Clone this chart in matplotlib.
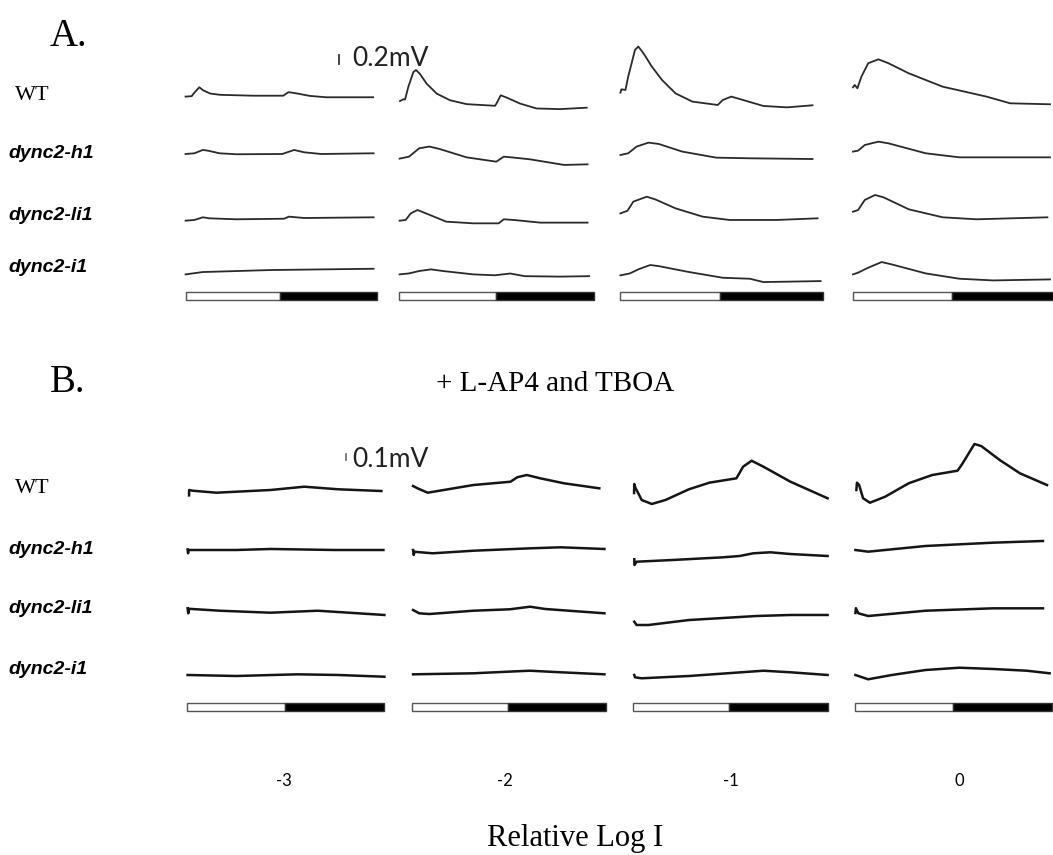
import matplotlib.pyplot as plt
from matplotlib.patches import Rectangle

# 相对光强 (Relative Log I) 和基因型
log_i = ['-3', '-2', '-1', '0']
genotypes = ['WT', 'dync2-h1', 'dync2-li1', 'dync2-i1']

# 光刺激: 亮 / 灭 (s)
light_on = (0.0, 0.99)
light_off = (0.99, 2.0)

scale_a = 0.2  # mV
scale_b = 0.1  # mV

# A. ERG traces, (time s, mV) for log I = -3, -2, -1, 0
wt_a = [
    [(0, 0), (0.064, 0.01), (0.08, 0.06), (0.143, 0.21), (0.185, 0.14), (0.255, 0.07), (0.36, 0.04),
     (0.71, 0.02), (1.02, 0.02), (1.075, 0.10), (1.14, 0.08), (1.30, 0.015), (1.47, -0.015), (1.96, -0.015)],
    [(0.01, -0.10), (0.044, -0.06), (0.062, -0.067), (0.095, 0.215), (0.147, 0.55), (0.174, 0.60),
     (0.215, 0.51), (0.284, 0.29), (0.387, 0.067), (0.523, -0.082), (0.694, -0.17), (0.985, -0.207),
     (1.0, -0.156), (1.043, 0.029), (1.104, -0.022), (1.24, -0.156), (1.41, -0.267), (1.65, -0.282),
     (1.925, -0.25)],
    [(0, 0.09), (0.01, 0.164), (0.05, 0.149), (0.077, 0.449), (0.111, 0.751), (0.144, 1.051),
     (0.177, 1.127), (0.228, 0.976), (0.311, 0.676), (0.411, 0.376), (0.545, 0.073), (0.712, -0.113),
     (0.963, -0.189), (1.013, -0.076), (1.097, 0.0), (1.213, -0.076), (1.414, -0.211), (1.647, -0.242),
     (1.9, -0.196)],
    [(0, 0.209), (0.017, 0.262), (0.044, 0.187), (0.084, 0.449), (0.152, 0.751), (0.254, 0.84),
     (0.355, 0.751), (0.558, 0.524), (0.896, 0.224), (1.335, 0.0), (1.572, -0.151), (1.97, -0.173)],
]
h1_a = [
    [(0, -0.027), (0.092, -0.011), (0.18, 0.064), (0.231, 0.049), (0.354, -0.011), (0.532, -0.033),
     (1.01, -0.027), (1.134, 0.064), (1.24, 0.011), (1.417, -0.027), (1.964, -0.011)],
    [(0.006, -0.131), (0.103, -0.087), (0.207, 0.102), (0.311, 0.14), (0.415, 0.087), (0.692, -0.102),
     (0.998, -0.2), (1.074, -0.087), (1.19, -0.111), (1.344, -0.147), (1.692, -0.273), (1.934, -0.26)],
    [(0, -0.049), (0.077, -0.011), (0.16, 0.14), (0.278, 0.229), (0.378, 0.2), (0.612, 0.027),
     (0.947, -0.109), (1.281, -0.124), (1.9, -0.14)],
    [(0, 0.027), (0.051, 0.049), (0.118, 0.176), (0.254, 0.251), (0.355, 0.213), (0.727, -0.011),
     (1.065, -0.102), (1.97, -0.102)],
]
li1_a = [
    [(0, -0.04), (0.092, -0.024), (0.18, 0.036), (0.25, 0.013), (0.532, -0.009), (1.028, 0.004),
     (1.08, 0.051), (1.24, 0.02), (1.964, 0.036)],
    [(0.006, -0.04), (0.069, -0.024), (0.12, 0.124), (0.19, 0.2), (0.277, 0.124), (0.484, -0.062),
     (0.762, -0.1), (1.022, -0.1), (1.074, -0.009), (1.178, -0.024), (1.449, -0.084), (1.934, -0.084)],
    [(0, 0.124), (0.07, 0.184), (0.128, 0.389), (0.261, 0.5), (0.344, 0.44), (0.545, 0.238),
     (0.813, 0.051), (1.08, -0.024), (1.548, -0.024), (1.95, 0.013)],
    [(0, 0.162), (0.051, 0.2), (0.118, 0.427), (0.22, 0.538), (0.304, 0.487), (0.558, 0.216),
     (0.896, 0.036), (1.234, -0.009), (1.944, 0.036)],
]
i1_a = [
    [(0, -0.02), (0.18, 0.033), (0.887, 0.078), (1.964, 0.107)],
    [(0.006, -0.02), (0.103, 0.002), (0.207, 0.056), (0.328, 0.093), (0.45, 0.056), (0.762, -0.02),
     (0.985, -0.04), (1.14, 0.0), (1.29, -0.06), (1.65, -0.07), (1.95, -0.06)],
    [(0, -0.042), (0.094, 0.002), (0.177, 0.093), (0.295, 0.191), (0.378, 0.167), (0.679, 0.033),
     (1.013, -0.096), (1.281, -0.118), (1.414, -0.193), (1.98, -0.171)],
    [(0, -0.02), (0.051, 0.018), (0.152, 0.131), (0.287, 0.258), (0.389, 0.204), (0.727, 0.002),
     (1.065, -0.118), (1.403, -0.156), (1.97, -0.133)],
]

# B. + L-AP4 and TBOA
wt_b = [
    [(0.025, -0.09), (0.026, 0.0), (0.062, -0.012), (0.301, -0.045), (0.848, 0.0), (1.19, 0.055),
     (1.532, 0.012), (1.97, -0.017)],
    [(0.013, 0.067), (0.059, 0.028), (0.164, -0.045), (0.286, -0.012), (0.635, 0.083), (1.019, 0.138),
     (1.088, 0.212), (1.187, 0.25), (1.326, 0.195), (1.571, 0.112), (1.936, 0.028)],
    [(0.015, -0.05), (0.017, 0.1), (0.03, 0.03), (0.045, -0.012), (0.093, -0.167), (0.197, -0.233),
     (0.336, -0.167), (0.578, 0.012), (0.787, 0.122), (1.065, 0.195), (1.133, 0.388), (1.221, 0.488),
     (1.342, 0.388), (1.619, 0.138), (2.0, -0.138)],
    [(0.01, 0.0), (0.016, 0.122), (0.038, 0.083), (0.078, -0.138), (0.148, -0.212), (0.302, -0.112),
     (0.542, 0.112), (0.782, 0.25), (1.04, 0.322), (1.091, 0.445), (1.211, 0.767), (1.28, 0.733),
     (1.468, 0.5), (1.674, 0.278), (1.949, 0.083)],
]
h1_b = [
    [(0.01, 0.01), (0.015, -0.055), (0.02, 0.0), (0.5, 0.0), (0.85, 0.017), (1.5, 0.0), (1.99, 0.0)],
    [(0.013, 0.0), (0.02, -0.083), (0.028, -0.03), (0.216, -0.055), (0.635, -0.012), (1.22, 0.028),
     (1.536, 0.045), (1.989, 0.017)],
    [(0.017, -0.155), (0.02, -0.25), (0.041, -0.195), (0.405, -0.167), (0.925, -0.122), (1.098, -0.1),
     (1.238, -0.055), (1.412, -0.038), (1.619, -0.067), (2.0, -0.1)],
    [(0, 0.0), (0.13, -0.028), (0.714, 0.067), (1.4, 0.122), (1.908, 0.15)],
]
li1_b = [
    [(0.01, 0.028), (0.017, -0.055), (0.024, 0.02), (0.335, -0.012), (0.848, -0.045), (1.327, -0.012),
     (2.0, -0.083)],
    [(0.013, 0.0), (0.076, -0.055), (0.181, -0.067), (0.635, -0.012), (1.013, 0.012), (1.221, 0.055),
     (1.376, 0.017), (1.989, -0.055)],
    [(0.017, -0.195), (0.041, -0.25), (0.163, -0.25), (0.578, -0.167), (1.272, -0.1), (1.619, -0.083),
     (2.0, -0.083)],
    [(0, -0.05), (0.005, 0.03), (0.03, -0.055), (0.13, -0.1), (0.714, -0.012), (1.4, 0.028), (1.908, 0.028)],
]
i1_b = [
    [(0.01, 0.017), (0.5, 0.0), (1.12, 0.028), (1.53, 0.017), (2.0, -0.012)],
    [(0.013, 0.028), (0.635, 0.045), (1.1, 0.08), (1.221, 0.088), (1.536, 0.062), (1.989, 0.028)],
    [(0.017, 0.017), (0.025, -0.022), (0.093, -0.038), (0.578, 0.0), (1.342, 0.088), (1.619, 0.062),
     (2.0, 0.017)],
    [(0, 0.017), (0.13, -0.055), (0.371, 0.017), (0.714, 0.1), (1.057, 0.138), (1.4, 0.117),
     (1.744, 0.088), (1.976, 0.045)],
]

# ---- 版面 (pixel layout) ----
W, H = 1053, 855
fig = plt.figure(figsize=(W / 100, H / 100), dpi=100)
SERIF = 'Liberation Serif'
SANS = 'Lato'


def ftext(x, y, s, **kw):
    fig.text(x / W, 1 - y / H, s, **kw)


def draw_section(rows, cols_px, ytop, ybot, row_px, bar_px, pxmv, lw, color):
    axes = []
    for c, (x0, x1) in enumerate(cols_px):
        ax = fig.add_axes([x0 / W, 1 - ybot / H, (x1 - x0) / W, (ybot - ytop) / H])
        ax.set_xlim(0, 2)
        ax.set_ylim(-(ybot - ytop) / pxmv, 0)
        ax.set_axis_off()
        for r, traces in enumerate(rows):
            off = -(row_px[r] - ytop) / pxmv
            t = [p[0] for p in traces[c]]
            v = [p[1] + off for p in traces[c]]
            ax.plot(t, v, color=color, lw=lw, solid_joinstyle='round', clip_on=False)
        yb = -(bar_px[1] - ytop) / pxmv
        hb = (bar_px[1] - bar_px[0]) / pxmv
        ax.add_patch(Rectangle((light_on[0], yb), light_on[1] - light_on[0], hb,
                               fc='white', ec='#555555', lw=1.0, clip_on=False))
        ax.add_patch(Rectangle((light_off[0], yb), light_off[1] - light_off[0], hb,
                               fc='black', ec='#333333', lw=1.0, clip_on=False))
        axes.append(ax)
    return axes


cols_a = [(185.6, 377), (399, 594), (620.4, 822.6), (853, 1053)]
cols_b = [(186.6, 384.4), (411.8, 605.5), (632.6, 827.6), (855.4, 1052)]

axA = draw_section([wt_a, h1_a, li1_a, i1_a], cols_a, 40, 310,
                   [96.6, 152.8, 218.9, 273.5], (291.7, 300), 44.4, 1.3, '#2a2a2a')
axB = draw_section([wt_b, h1_b, li1_b, i1_b], cols_b, 440, 720,
                   [490, 550, 610, 676], (702.7, 710.7), 60, 1.8, '#151515')

# 标尺
yA = -(64 - 40) / 44.4
axA[0].plot([1.603, 1.603], [yA, yA + scale_a], color='#333333', lw=1.3, clip_on=False)
yB = -(460 - 440) / 60
axB[0].plot([1.612, 1.612], [yB, yB + scale_b], color='#777777', lw=1.3, clip_on=False)
ftext(352, 58, '%.1fmV' % scale_a, family=SANS, fontsize=19, va='center', ha='left', color='#222222')
ftext(352, 459, '%.1fmV' % scale_b, family=SANS, fontsize=19, va='center', ha='left', color='#222222')

# 标题和行标签
ftext(50, 37, 'A.', family=SERIF, fontsize=28, va='center', ha='left')
ftext(50, 382, 'B.', family=SERIF, fontsize=28, va='center', ha='left')
ftext(555, 384, '+ L-AP4 and TBOA', family=SERIF, fontsize=21, va='center', ha='center')

rows_y_a = [95, 153, 215, 268]
rows_y_b = [488, 549, 608, 670]
for g, ya, yb in zip(genotypes, rows_y_a, rows_y_b):
    if g == 'WT':
        ftext(15, ya, g, family=SERIF, fontsize=16, va='center')
        ftext(15, yb, g, family=SERIF, fontsize=16, va='center')
    else:
        ftext(8, ya, g, family='Liberation Sans', fontsize=14, weight='bold', style='italic', va='center')
        ftext(8, yb, g, family='Liberation Sans', fontsize=14, weight='bold', style='italic', va='center')

for lab, x in zip(log_i, [284, 505, 731, 959]):
    ftext(x, 781, lab, family=SANS, fontsize=12, ha='center', va='center')

ftext(575, 846, 'Relative Log I', family=SERIF, fontsize=22, ha='center', va='baseline')

plt.savefig('out.png', dpi=100)
